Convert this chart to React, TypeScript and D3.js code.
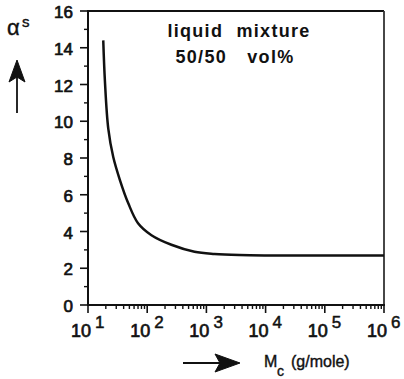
import React from "react";
import * as d3 from "d3";

// Molar mass between crosslinks M_c (g/mole) and swelling ratio alpha^s
const molarMass = [18.1, 19.3, 22, 26.7, 34.6, 47.7, 70, 118, 256, 630, 1370, 3600, 1e4, 1e5, 1e6];
const alphaS = [14.4, 12.2, 9.6, 8.05, 6.8, 5.55, 4.45, 3.8, 3.28, 2.9, 2.78, 2.72, 2.7, 2.7, 2.7];

const yTicks = [0, 2, 4, 6, 8, 10, 12, 14, 16];
const yMinorTicks = [1, 3, 5, 7, 9, 11, 13, 15];
const xDecades = [1, 2, 3, 4, 5, 6];

const W = 404;
const H = 379;
const left = 88;
const right = 384;
const top = 11;
const bottom = 305;
const font = "'Liberation Sans', Arial, Helvetica, sans-serif";

export default function App() {
  const x = d3.scaleLog().domain([10, 1e6]).range([left, right]);
  const y = d3.scaleLinear().domain([0, 16]).range([bottom, top]);

  const points = molarMass.map((m, i) => [m, alphaS[i]] as [number, number]);
  const line = d3
    .line<[number, number]>()
    .x((d) => x(d[0]))
    .y((d) => y(d[1]))
    .curve(d3.curveCatmullRom.alpha(0.5));

  const minorX: number[] = [];
  for (let e = 1; e < 6; e++) {
    for (let k = 2; k <= 9; k++) minorX.push(k * Math.pow(10, e));
  }

  return (
    <svg
      width={W}
      height={H}
      style={{ position: "absolute", left: 0, top: 0, background: "#fff" }}
      fontFamily={font}
    >
      {/* frame */}
      <line x1={left} x2={right} y1={top} y2={top} stroke="#111" strokeWidth={1.8} />
      <line x1={right} x2={right} y1={top} y2={bottom} stroke="#333" strokeWidth={1.8} />
      <line x1={left} x2={left} y1={top - 1} y2={bottom + 1} stroke="#111" strokeWidth={2} />
      <line x1={left - 1} x2={right + 1} y1={bottom} y2={bottom} stroke="#111" strokeWidth={2.2} />

      {/* y ticks */}
      {yTicks.map((t) => (
        <g key={"y" + t}>
          <line x1={left - 8} x2={left} y1={y(t)} y2={y(t)} stroke="#111" strokeWidth={1.6} />
          <text
            x={73}
            y={y(t) + 7}
            textAnchor="end"
            fontSize={17}
            fill="#111"
            stroke="#111"
            strokeWidth={0.7}
          >
            {t}
          </text>
        </g>
      ))}
      {yMinorTicks.map((t) => (
        <line key={"ym" + t} x1={left - 4} x2={left + 1} y1={y(t)} y2={y(t)} stroke="#111" strokeWidth={1.4} />
      ))}

      {/* x ticks */}
      {minorX.map((v) => (
        <line key={"xm" + v} x1={x(v)} x2={x(v)} y1={bottom} y2={bottom + 4} stroke="#111" strokeWidth={1.4} />
      ))}
      {xDecades.map((e) => {
        const px = x(Math.pow(10, e));
        return (
          <g key={"x" + e}>
            <line x1={px} x2={px} y1={bottom} y2={bottom + 8} stroke="#111" strokeWidth={1.6} />
            <text
              x={px + 3}
              y={337}
              textAnchor="end"
              fontSize={18}
              fill="#111"
              stroke="#111"
              strokeWidth={0.7}
            >
              10
            </text>
            <text x={px + 7} y={328} fontSize={17} fill="#111" stroke="#111" strokeWidth={0.5}>
              {e}
            </text>
          </g>
        );
      })}

      {/* curve */}
      <path d={line(points) ?? ""} fill="none" stroke="#111" strokeWidth={2.5} strokeLinejoin="round" />

      {/* annotation */}
      <text
        x={239}
        y={37}
        textAnchor="middle"
        fontSize={18}
        fontWeight="bold"
        fill="#111"
        letterSpacing={1.3}
        wordSpacing={7}
      >
        liquid mixture
      </text>
      <text
        x={235}
        y={63}
        textAnchor="middle"
        fontSize={18}
        fontWeight="bold"
        fill="#111"
        letterSpacing={1.3}
        wordSpacing={14}
      >
        50/50 vol%
      </text>

      {/* y axis title with arrow */}
      <text x={7} y={35} fontSize={22} fill="#111" stroke="#111" strokeWidth={0.4}>
        α
      </text>
      <text x={22} y={27} fontSize={15} fill="#111" stroke="#111" strokeWidth={0.4}>
        s
      </text>
      <line x1={17} x2={17} y1={113} y2={75} stroke="#111" strokeWidth={1.8} />
      <path d="M17,60 L25,82 L17,77 L9,82 Z" fill="#111" stroke="#111" strokeWidth={1} strokeLinejoin="round" />

      {/* x axis title with arrow */}
      <line x1={183} x2={222} y1={363} y2={363} stroke="#111" strokeWidth={2} />
      <path d="M240,363 L215,354 L220,363 L215,372 Z" fill="#111" stroke="#111" strokeWidth={1} strokeLinejoin="round" />
      <text x={264} y={367} fontSize={16} fill="#111" stroke="#111" strokeWidth={0.4}>
        M
      </text>
      <text x={277} y={376} fontSize={14} fill="#111" stroke="#111" strokeWidth={0.4}>
        c
      </text>
      <text x={291} y={367} fontSize={16} fill="#111" stroke="#111" strokeWidth={0.4}>
        (g/mole)
      </text>
    </svg>
  );
}
